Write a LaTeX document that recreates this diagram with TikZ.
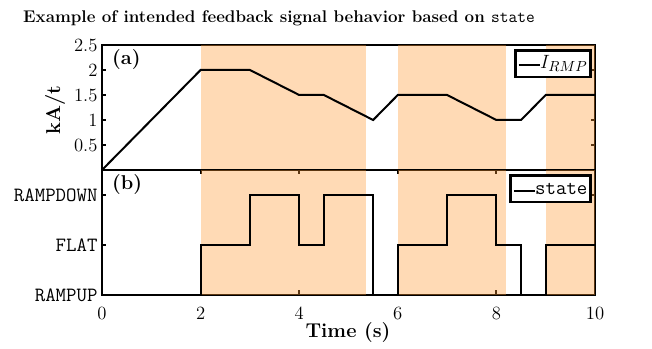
\documentclass[tikz,border=0pt]{standalone}
\usepackage{amssymb}
\usepackage{amsmath}
\usepackage{tikz}

\definecolor{bandorange}{RGB}{255,153,51}
\tikzset{
  axisline/.style={line width=1.6pt},
  sigline/.style={line width=1.5pt, line join=miter},
  band/.style={fill=bandorange, fill opacity=0.36},
  numlbl/.style={font=\fontsize{14}{16}\selectfont, inner sep=1pt},
  statelbl/.style={font=\ttfamily\fontsize{15.2}{17}\selectfont, inner sep=1pt},
  legbox/.style={draw, line width=2pt, fill=white, inner xsep=2.5pt, inner ysep=1pt, minimum height=20pt},
  panellbl/.style={font=\bfseries\fontsize{15}{17}\selectfont, inner sep=0pt},
}

\begin{document}
\begin{tikzpicture}[x=0.75pt,y=0.75pt]
  \useasboundingbox (0,0) rectangle (652,349);

  \node[font=\bfseries\fontsize{12.7}{15}\selectfont] (title) at (279,331)
    {Example of intended feedback signal behavior based on {\mdseries\ttfamily state}};

  % (a) ramp rate
  \begin{scope}[shift={(102,179)},xscale=49.3,yscale=50]
    \draw[axisline] (0,0) rectangle (10,2.5);
    \foreach \y in {0.5,1,1.5,2} {
      \draw[axisline] (0,\y) -- ++(0.09,0);
      \draw[axisline] (10,\y) -- ++(-0.09,0);
    }
    \foreach \y in {0.5,1,1.5,2,2.5}
      \node[numlbl,anchor=east] (ya\y) at (-0.06,\y) {\y};
    \fill[band] (2,0) rectangle (5.35,2.5);
    \fill[band] (6,0) rectangle (8.2,2.5);
    \fill[band] (9,0) rectangle (10,2.5);
    \draw[sigline] (0,0) -- (2,2) -- (3,2) -- (4,1.5) -- (4.5,1.5) -- (5.5,1)
      -- (6,1.5) -- (7,1.5) -- (8,1) -- (8.5,1) -- (9,1.5) -- (10,1.5);
    \node[panellbl,anchor=west] (pa) at (0.2,2.21) {(a)};
    \node[legbox,anchor=north east] (lega) at (9.94,2.42)
      {\raisebox{0.4ex}{\rule{16pt}{1.6pt}}\fontsize{15}{17}\selectfont$I_{RMP}$};
  \end{scope}

  % (b) state
  \begin{scope}[shift={(102,54)},xscale=49.3,yscale=50]
    \draw[axisline] (0,0) rectangle (10,2.5);
    \foreach \x in {2,4,6,8} {
      \draw[axisline] (\x,0) -- ++(0,0.09);
      \draw[axisline] (\x,2.5) -- ++(0,-0.09);
    }
    \foreach \y in {1,2} {
      \draw[axisline] (0,\y) -- ++(0.09,0);
      \draw[axisline] (10,\y) -- ++(-0.09,0);
    }
    \node[statelbl,anchor=east] (rampup) at (-0.06,0) {RAMPUP};
    \node[statelbl,anchor=east] (flat) at (-0.06,1) {FLAT};
    \node[statelbl,anchor=east] (rampdown) at (-0.06,2) {RAMPDOWN};
    \foreach \x in {0,2,4,6,8,10}
      \node[numlbl] (xt\x) at (\x,-0.36) {\x};
    \fill[band] (2,0) rectangle (5.35,2.5);
    \fill[band] (6,0) rectangle (8.2,2.5);
    \fill[band] (9,0) rectangle (10,2.5);
    \draw[sigline] (0,0) -- (2,0) -- (2,1) -- (3,1) -- (3,2) -- (4,2) -- (4,1)
      -- (4.5,1) -- (4.5,2) -- (5.5,2) -- (5.5,0) -- (6,0) -- (6,1) -- (7,1)
      -- (7,2) -- (8,2) -- (8,1) -- (8.5,1) -- (8.5,0) -- (9,0) -- (9,1) -- (10,1);
    \node[panellbl,anchor=west] (pb) at (0.2,2.21) {(b)};
    \node[legbox,anchor=north east] (legb) at (9.94,2.42)
      {\raisebox{0.4ex}{\rule{16pt}{1.6pt}}\ttfamily\fontsize{15.2}{17}\selectfont state};
  \end{scope}

  \node[font=\bfseries\fontsize{15}{17}\selectfont,rotate=90] (ylab) at (55,239) {kA/t};
  \node[font=\bfseries\fontsize{15}{17}\selectfont] (xlab) at (348,16) {Time (s)};
\end{tikzpicture}
\end{document}
